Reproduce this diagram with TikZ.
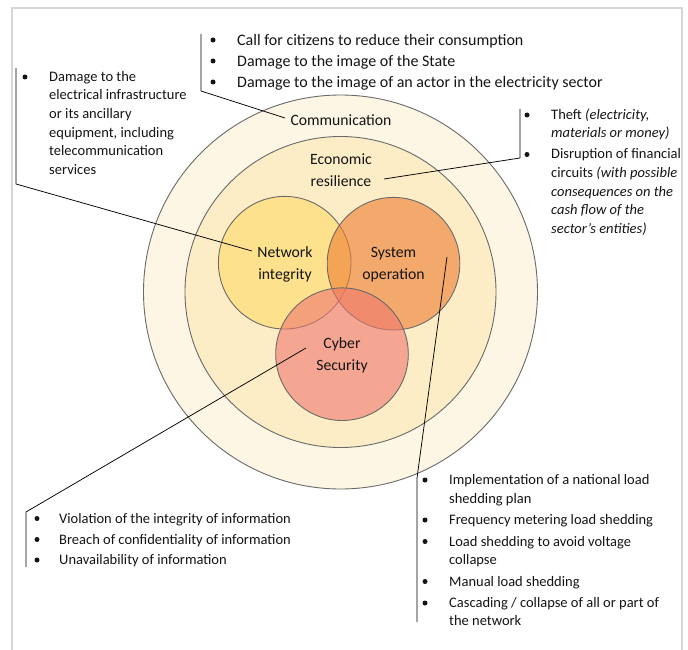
\documentclass[tikz,border=0pt]{standalone}
\usepackage{fontspec}
\setmainfont{Carlito}
\definecolor{ringA}{HTML}{FEF6E4}
\definecolor{ringB}{HTML}{FDEDC6}
\definecolor{niC}{HTML}{FFD966}
\definecolor{soC}{HTML}{ED7D31}
\definecolor{csC}{HTML}{EE7770}
\definecolor{edge}{HTML}{6A6A6A}
\definecolor{frameC}{HTML}{D6D6D6}
\definecolor{txtC}{HTML}{141414}
\begin{document}
\begin{tikzpicture}[x=1pt,y=-1pt,
  txt/.style={anchor=base west, inner sep=0pt, text=txtC, font=\fontsize{14.5}{17}\selectfont},
  bigtxt/.style={txt, font=\fontsize{16}{19}\selectfont},
  lab/.style={align=center, inner sep=0pt, text=txtC, font=\fontsize{15.7}{22}\selectfont},
  ring/.style={circle, draw=edge, line width=0.9pt, inner sep=0pt},
  venn/.style={ring, fill opacity=0.6},
  conn/.style={draw=black, line width=0.75pt},
  dot/.style={circle, fill=txtC, inner sep=0pt, minimum size=5pt},
  framestyle/.style={draw=frameC, line width=1.5pt}
]
\useasboundingbox (0,0) rectangle (688,650);
% frame
\coordinate (fA) at (12,650);
\coordinate (fB) at (12,8);
\coordinate (fC) at (682,8);
\coordinate (fD) at (682,650);
\draw[framestyle] (fA) -- (fB) -- (fC) -- (fD);

% circles
\node[ring, fill=ringA, minimum size=394pt] (outer) at (340.5,292) {};
\node[ring, fill=ringB, minimum size=311pt] (middle) at (340.5,292) {};
\node[venn, fill=niC, minimum size=132.6pt] (ni) at (284.7,262.7) {};
\node[venn, fill=soC, minimum size=132.6pt] (so) at (393.5,263.7) {};
\node[venn, fill=csC, minimum size=132.6pt] (cs) at (342,354.2) {};

% circle labels
\node[lab] (comm) at (341,120) {Communication};
\node[lab] (econ) at (341,170) {Economic\\resilience};
\node[lab] (nil) at (285,264) {Network\\integrity};
\node[lab] (sol) at (393.5,265) {System\\operation};
\node[lab] (csl) at (342,355.5) {Cyber\\Security};

% connectors
\coordinate (tTop) at (201,34);
\coordinate (tCorner) at (201,91);
\coordinate (tEnd) at (285,118);
\draw[conn] (tTop) -- (tCorner) -- (tEnd);

\coordinate (lTop) at (16,68);
\coordinate (lCorner) at (16,184);
\coordinate (lEnd) at (252,251);
\draw[conn] (lTop) -- (lCorner) -- (lEnd);

\coordinate (rTop) at (520,109);
\coordinate (rCorner) at (520,158);
\coordinate (rEnd) at (384,179);
\draw[conn] (rTop) -- (rCorner) -- (rEnd);

\coordinate (blBot) at (26,567);
\coordinate (blCorner) at (26,512);
\coordinate (blEnd) at (306,348);
\draw[conn] (blBot) -- (blCorner) -- (blEnd);

\coordinate (brBot) at (417,622);
\coordinate (brCorner) at (417,478);
\coordinate (brEnd) at (447,257);
\draw[conn] (brBot) -- (brCorner) -- (brEnd);

% top block
\node[dot] (tb1) at (213,40) {};
\node[dot] (tb2) at (213,61) {};
\node[dot] (tb3) at (213,82) {};
\node[bigtxt] (tt1) at (237,45.5) {Call for citizens to reduce their consumption};
\node[bigtxt] (tt2) at (237,66.5) {Damage to the image of the State};
\node[bigtxt] (tt3) at (237,87.5) {Damage to the image of an actor in the electricity sector};

% left block
\node[dot] (lb1) at (25,77) {};
\node[txt] (lt1) at (49,81.5) {Damage to the};
\node[txt] (lt2) at (49,100) {electrical infrastructure};
\node[txt] (lt3) at (49,118.8) {or its ancillary};
\node[txt] (lt4) at (49,137.3) {equipment, including};
\node[txt] (lt5) at (49,155.8) {telecommunication};
\node[txt] (lt6) at (49,174.5) {services};

% top-right block
\node[dot] (rb1) at (527,115) {};
\node[dot] (rb2) at (527,154.5) {};
\node[txt] (rt1) at (551,119.5) {Theft \textit{(electricity,}};
\node[txt] (rt2) at (551,138) {\textit{materials or money)}};
\node[txt] (rt3) at (551,159) {Disruption of financial};
\node[txt] (rt4) at (551,177.3) {circuits \textit{(with possible}};
\node[txt] (rt5) at (551,196) {\textit{consequences on the}};
\node[txt] (rt6) at (551,214.5) {\textit{cash flow of the}};
\node[txt] (rt7) at (551,233) {\textit{sector\char"0027 s entities)}};

% bottom-left block
\node[dot] (bb1) at (37,518.5) {};
\node[dot] (bb2) at (37,539.5) {};
\node[dot] (bb3) at (37,560) {};
\node[txt] (bt1) at (59,523) {Violation of the integrity of information};
\node[txt] (bt2) at (59,544) {Breach of confidentiality of information};
\node[txt] (bt3) at (59,564.5) {Unavailability of information};

% bottom-right block
\node[dot] (sb1) at (425,480) {};
\node[dot] (sb2) at (425,520) {};
\node[dot] (sb3) at (425,541.5) {};
\node[dot] (sb4) at (425,581.5) {};
\node[dot] (sb5) at (425,603) {};
\node[txt] (st1) at (449,484.5) {Implementation of a national load};
\node[txt] (st2) at (449,503.8) {shedding plan};
\node[txt] (st3) at (449,524.5) {Frequency metering load shedding};
\node[txt] (st4) at (449,546) {Load shedding to avoid voltage};
\node[txt] (st5) at (449,564.5) {collapse};
\node[txt] (st6) at (449,586) {Manual load shedding};
\node[txt] (st7) at (449,607.8) {Cascading / collapse of all or part of};
\node[txt] (st8) at (449,625.2) {the network};
\end{tikzpicture}
\end{document}
